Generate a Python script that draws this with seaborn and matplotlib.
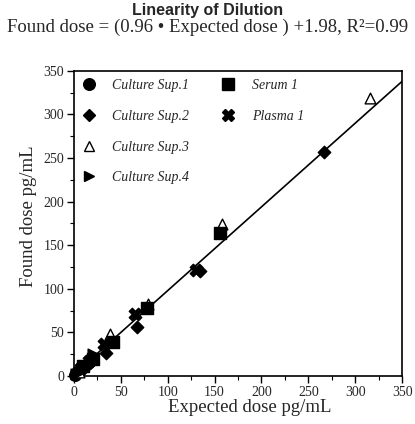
import matplotlib
matplotlib.use("Agg")
import matplotlib.pyplot as plt
import seaborn as sns
import numpy as np
import pandas as pd
from matplotlib.lines import Line2D
from matplotlib.ticker import MultipleLocator

# ---- data ----
series_names = ["Culture Sup.1", "Culture Sup.2", "Culture Sup.3", "Culture Sup.4", "Serum 1", "Plasma 1"]

cs1_expected = [10, 5, 2.5, 1.2]
cs1_found = [12, 6, 3, 1.5]
cs2_expected = [267, 134, 67, 34, 17, 8, 4, 2]
cs2_found = [257, 120, 56, 27, 15, 8, 4, 2]
cs3_expected = [316, 158, 79, 39, 20, 10, 5]
cs3_found = [319, 174, 83, 48, 22, 12, 5]
cs4_expected = [20, 10, 5, 2.5]
cs4_found = [25, 11, 5, 2]
serum_expected = [156, 78, 42, 20, 10]
serum_found = [164, 78, 39, 20, 12]
plasma_expected = [130, 65, 32, 16, 8]
plasma_found = [122, 71, 37, 17, 9]

fit_slope = 0.96
fit_intercept = 1.98
fit_range = [0, 350]

x_ticks = [0, 50, 100, 150, 200, 250, 300, 350]
y_ticks = [0, 50, 100, 150, 200, 250, 300, 350]

title_text = "Linearity of Dilution"
subtitle_text = "Found dose = (0.96 \u2022 Expected dose ) +1.98, R\u00b2=0.99"
xlabel_text = "Expected dose pg/mL"
ylabel_text = "Found dose pg/mL"

# ---- build table ----
expected_lists = [cs1_expected, cs2_expected, cs3_expected, cs4_expected, serum_expected, plasma_expected]
found_lists = [cs1_found, cs2_found, cs3_found, cs4_found, serum_found, plasma_found]
rows = []
for name, ex, fo in zip(series_names, expected_lists, found_lists):
    for a, b in zip(ex, fo):
        rows.append({"series": name, "expected": a, "found": b})
df = pd.DataFrame(rows)

sns.set_theme(style="white")
plt.rcParams["font.family"] = ["Liberation Serif", "DejaVu Serif"]

fig = plt.figure(figsize=(4.15, 4.24), dpi=100)
ax = fig.add_axes([0.178, 0.113, 0.791, 0.72])

styles = {
    "Culture Sup.1": dict(marker="o", face="black", s=70),
    "Culture Sup.2": dict(marker="D", face="black", s=40),
    "Culture Sup.3": dict(marker="^", face="white", s=60),
    "Culture Sup.4": dict(marker=">", face="black", s=60),
    "Serum 1": dict(marker="s", face="black", s=70),
    "Plasma 1": dict(marker="X", face="black", s=80),
}

# regression line
fit_df = pd.DataFrame({"x": fit_range, "y": [fit_slope * v + fit_intercept for v in fit_range]})
sns.lineplot(data=fit_df, x="x", y="y", color="black", lw=1.2, ax=ax, legend=False, zorder=1)

for name in series_names:
    st = styles[name]
    sub = df[df["series"] == name]
    sns.scatterplot(data=sub, x="expected", y="found", marker=st["marker"], s=st["s"],
                    color=st["face"], edgecolor="black", linewidth=1.0, ax=ax, legend=False, zorder=3,
                    clip_on=False)

ax.set_xlim(0, 350)
ax.set_ylim(0, 350)
ax.set_xticks(x_ticks)
ax.set_yticks(y_ticks)
ax.xaxis.set_minor_locator(MultipleLocator(25))
ax.yaxis.set_minor_locator(MultipleLocator(25))
ax.tick_params(axis="both", which="major", direction="out", length=5, width=1, color="black",
               labelsize=10, bottom=True, left=True, top=False, right=False, pad=2)
ax.tick_params(axis="both", which="minor", direction="out", length=3, width=0.8, color="black",
               bottom=True, left=True, top=False, right=False)
for sp in ax.spines.values():
    sp.set_color("black")
    sp.set_linewidth(1.2)
ax.grid(False)

ax.set_xlabel(xlabel_text, fontsize=13.5)
ax.set_ylabel(ylabel_text, fontsize=13.5)
ax.xaxis.set_label_coords(0.537, -0.074)
ax.yaxis.set_label_coords(-0.112, 0.525)

# legend: 4 entries in first column, 2 in second
handles = []
for name in series_names:
    st = styles[name]
    handles.append(Line2D([], [], linestyle="none", marker=st["marker"], markersize=np.sqrt(st["s"]),
                          markerfacecolor=st["face"], markeredgecolor="black", markeredgewidth=1.0))
blank = Line2D([], [], linestyle="none", marker=None)
leg = ax.legend(handles + [blank, blank], series_names + ["", ""], ncol=2, loc="upper left",
                bbox_to_anchor=(-0.01, 1.005), frameon=False,
                prop={"family": "Liberation Serif", "style": "italic", "size": 10},
                handlelength=1.2, handletextpad=1.1, columnspacing=2.2, labelspacing=1.28,
                borderaxespad=0.3)

fig.text(0.5, 0.976, title_text, ha="center", va="center", fontsize=11.5, fontweight="bold",
         family="Liberation Sans")
fig.text(0.5, 0.935, subtitle_text, ha="center", va="center", fontsize=13.5)

fig.savefig("out.png", dpi=100)
